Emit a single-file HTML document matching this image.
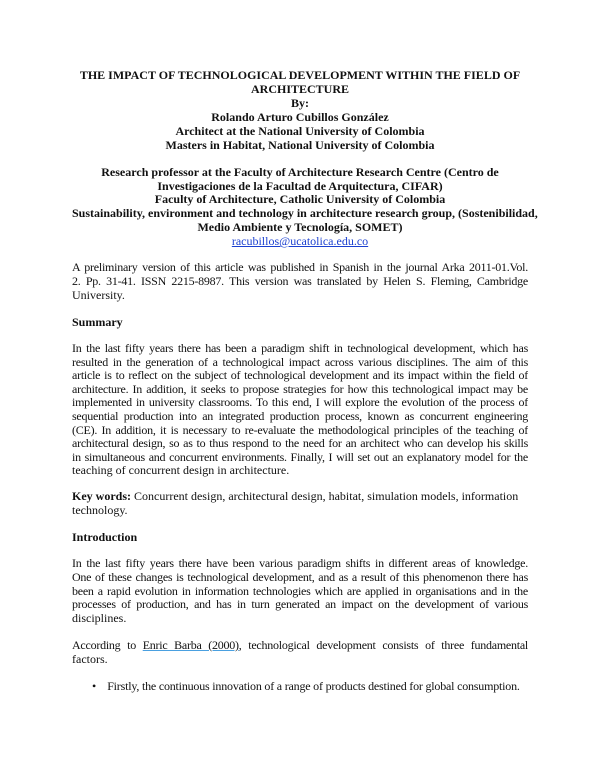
<!DOCTYPE html>
<html><head><meta charset="utf-8"><style>
html,body{margin:0;padding:0;background:#fff;}
body{width:600px;height:776px;position:relative;overflow:hidden;font-family:"Liberation Serif",serif;font-size:12px;color:#111;}
.l{position:absolute;left:72px;width:456px;height:14px;line-height:14px;white-space:nowrap;}
.c{text-align:center;font-weight:bold;}
.j{text-align:justify;text-align-last:justify;white-space:normal;letter-spacing:-0.25px;word-spacing:-1px;overflow:hidden;}
.b{font-weight:bold;}
a{color:#1a3fd0;text-decoration:underline;}
.u{text-decoration:underline;text-decoration-color:#4aa0e0;}
</style></head><body>
<div class="l c" style="top:68px">THE IMPACT OF TECHNOLOGICAL DEVELOPMENT WITHIN THE FIELD OF</div>
<div class="l c" style="top:82px">ARCHITECTURE</div>
<div class="l c" style="top:96px">By:</div>
<div class="l c" style="top:110px">Rolando Arturo Cubillos González</div>
<div class="l c" style="top:124px">Architect at the National University of Colombia</div>
<div class="l c" style="top:138px">Masters in Habitat, National University of Colombia</div>
<div class="l c" style="top:165px">Research professor at the Faculty of Architecture Research Centre (Centro de</div>
<div class="l c" style="top:179px">Investigaciones de la Facultad de Arquitectura, CIFAR)</div>
<div class="l c" style="top:192px">Faculty of Architecture, Catholic University of Colombia</div>
<div class="l c" style="top:206px">Sustainability, environment and technology in architecture research group, (Sostenibilidad,</div>
<div class="l c" style="top:220px">Medio Ambiente y Tecnología, SOMET)</div>
<div class="l" style="top:234px;text-align:center"><a>racubillos@ucatolica.edu.co</a></div>

<div class="l j" style="top:260px">A preliminary version of this article was published in Spanish in the journal Arka 2011-01.Vol.</div>
<div class="l j" style="top:274px">2. Pp. 31-41. ISSN 2215-8987. This version was translated by Helen S. Fleming, Cambridge</div>
<div class="l" style="top:288px">University.</div>

<div class="l b" style="top:315px">Summary</div>

<div class="l j" style="top:341px">In the last fifty years there has been a paradigm shift in technological development, which has</div>
<div class="l j" style="top:354.6px">resulted in the generation of a technological impact across various disciplines. The aim of this</div>
<div class="l j" style="top:368.2px">article is to reflect on the subject of technological development and its impact within the field of</div>
<div class="l j" style="top:381.8px">architecture. In addition, it seeks to propose strategies for how this technological impact may be</div>
<div class="l j" style="top:395.4px">implemented in university classrooms. To this end, I will explore the evolution of the process of</div>
<div class="l j" style="top:409px">sequential production into an integrated production process, known as concurrent engineering</div>
<div class="l j" style="top:422.6px">(CE). In addition, it is necessary to re-evaluate the methodological principles of the teaching of</div>
<div class="l j" style="top:436.2px">architectural design, so as to thus respond to the need for an architect who can develop his skills</div>
<div class="l j" style="top:449.8px">in simultaneous and concurrent environments. Finally, I will set out an explanatory model for the</div>
<div class="l" style="top:463.4px">teaching of concurrent design in architecture.</div>

<div class="l" style="top:489px"><b>Key words:</b> Concurrent design, architectural design, habitat, simulation models, information</div>
<div class="l" style="top:503px">technology.</div>

<div class="l b" style="top:530px">Introduction</div>

<div class="l j" style="top:556px">In the last fifty years there have been various paradigm shifts in different areas of knowledge.</div>
<div class="l j" style="top:570px">One of these changes is technological development, and as a result of this phenomenon there has</div>
<div class="l j" style="top:584px">been a rapid evolution in information technologies which are applied in organisations and in the</div>
<div class="l j" style="top:597px">processes of production, and has in turn generated an impact on the development of various</div>
<div class="l" style="top:611px">disciplines.</div>

<div class="l j" style="top:638px">According to <span class="u">Enric Barba (2000)</span>, technological development consists of three fundamental</div>
<div class="l" style="top:652px">factors.</div>

<div class="l" style="top:679px;left:92px;width:436px;letter-spacing:-0.2px">•&nbsp;&nbsp;&nbsp;&nbsp;Firstly, the continuous innovation of a range of products destined for global consumption.</div>
</body></html>
